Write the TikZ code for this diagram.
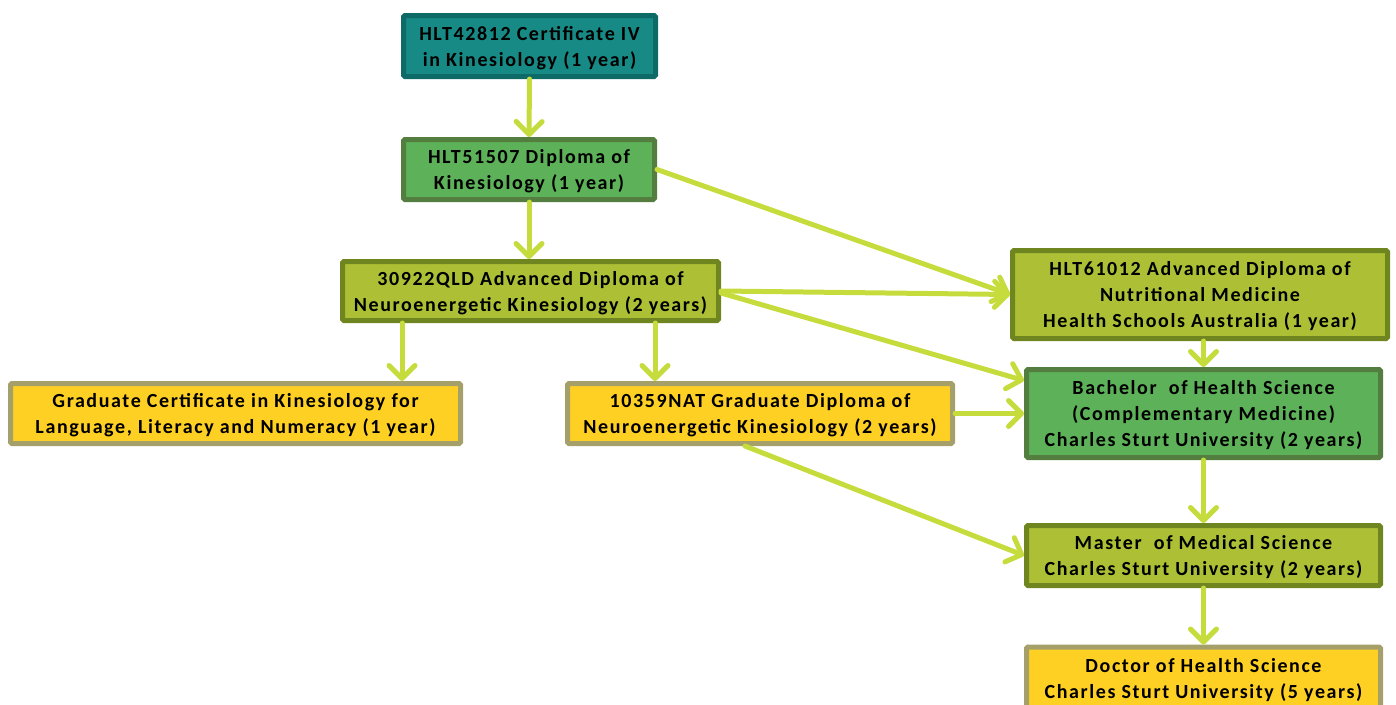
\documentclass[tikz,border=0pt]{standalone}
\usepackage{fontspec}
\setmainfont{Carlito}
\newfontfamily\boxfont[LetterSpace=8]{Carlito}
\usetikzlibrary{arrows.meta}
\definecolor{tealfill}{HTML}{178A85}
\definecolor{tealline}{HTML}{0E6A66}
\definecolor{greenfill}{HTML}{5DB158}
\definecolor{greenline}{HTML}{537E3F}
\definecolor{olivefill}{HTML}{ADC035}
\definecolor{oliveline}{HTML}{6F8520}
\definecolor{yellowfill}{HTML}{FFD024}
\definecolor{yellowline}{HTML}{A59F6A}
\definecolor{arrowline}{HTML}{C6DC3D}
\tikzset{
  box/.style={draw, line width=5pt, rounded corners=1.5pt, align=center,
    inner sep=0pt, text depth=-7pt,
    font=\boxfont\fontsize{20}{26}\selectfont\bfseries},
  tealbox/.style={box, fill=tealfill, draw=tealline},
  greenbox/.style={box, fill=greenfill, draw=greenline},
  olivebox/.style={box, fill=olivefill, draw=oliveline},
  yellowbox/.style={box, fill=yellowfill, draw=yellowline},
  arr/.style={draw=arrowline, line width=5pt, line cap=round,
    -{Straight Barb[length=13pt,width=26pt,line join=round,line cap=round]}}
}
\begin{document}
\begin{tikzpicture}[x=1pt,y=-1pt]
    \useasboundingbox (0,0) rectangle (1396,704);

    % Cajas
    \node[tealbox, minimum width=252pt, minimum height=61pt] (cert) at (529.5,46)
        {HLT42812 Certificate IV\\in Kinesiology (1 year)};
    \node[greenbox, minimum width=251pt, minimum height=60pt] (dipl) at (529,169.5)
        {HLT51507 Diploma of\\Kinesiology (1 year)};
    \node[olivebox, minimum width=376pt, minimum height=59pt] (adv) at (530.5,291)
        {30922QLD Advanced Diploma of\\Neuroenergetic Kinesiology (2 years)};
    \node[yellowbox, minimum width=450pt, minimum height=60pt] (grad) at (235.5,413.5)
        {Graduate Certificate in Kinesiology for\\Language, Literacy and Numeracy (1 year)};
    \node[yellowbox, minimum width=385pt, minimum height=60pt] (nat) at (760,413.5)
        {10359NAT Graduate Diploma of\\Neuroenergetic Kinesiology (2 years)};
    \node[olivebox, minimum width=375pt, minimum height=88pt] (nut) at (1200,294.5)
        {HLT61012 Advanced Diploma of\\Nutritional Medicine\\Health Schools Australia (1 year)};
    \node[greenbox, minimum width=354pt, minimum height=88pt] (bach) at (1203.5,413.5)
        {Bachelor\ \ of Health Science\\(Complementary Medicine)\\Charles Sturt University (2 years)};
    \node[olivebox, minimum width=354pt, minimum height=60pt] (mast) at (1203.5,555.5)
        {Master\ \ of Medical Science\\Charles Sturt University (2 years)};
    \node[yellowbox, minimum width=354pt, minimum height=62pt] (doc) at (1203.5,678)
        {Doctor of Health Science\\Charles Sturt University (5 years)};

    % Flechas
    \draw[arr] (cert.south) -- (dipl.north);
    \draw[arr] (dipl.south) -- (dipl.south |- adv.north);
    \draw[arr] (dipl.east) -- (nut.west);
    \draw[arr] (adv.east) -- (nut.west);
    \draw[arr] ([yshift=-2pt]adv.east) -- ([yshift=33pt]bach.west);
    \draw[arr] ([xshift=62pt]adv.south west) -- ([xshift=62pt]adv.south west |- grad.north);
    \draw[arr] ([xshift=-66pt]adv.south east) -- ([xshift=-66pt]adv.south east |- nat.north);
    \draw[arr] (nat.east) -- (bach.west);
    \draw[arr] ([xshift=-15pt]nat.south) -- (mast.west);
    \draw[arr] (bach.north |- nut.south) -- (bach.north);
    \draw[arr] (bach.south) -- (mast.north);
    \draw[arr] (mast.south) -- (doc.north);
\end{tikzpicture}
\end{document}
